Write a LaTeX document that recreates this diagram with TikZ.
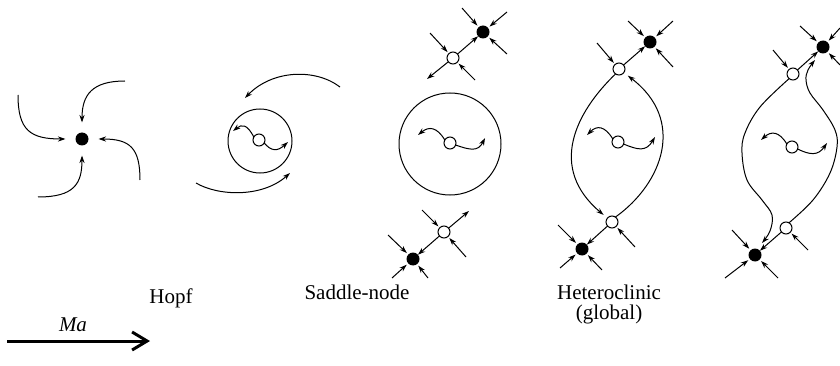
\documentclass[tikz,border=0pt]{standalone}
\usepackage{fontspec}
\setmainfont{Liberation Serif}
\usetikzlibrary{arrows.meta,calc}
\begin{document}
\begin{tikzpicture}[x=1pt,y=-1pt,
  every node/.style={inner sep=0pt,outer sep=0pt},
  fdot/.style={circle,fill=black,minimum size=13pt},
  odot/.style={circle,draw,line width=1pt,fill=white,minimum size=12pt},
  arr/.style={line width=1pt,-{Stealth[length=7.5pt,width=5pt]}},
  orbit/.style={line width=1pt},
  lbl/.style={font=\fontsize{21}{24}\selectfont,anchor=base}
]
\useasboundingbox (0,0) rectangle (840,366);

% ---------- panel 1: stable focus
\node[fdot] (D1) at (82,139) {};
\coordinate (p1a) at (125,81);
\coordinate (p1b) at (18,95);
\coordinate (p1c) at (140,180);
\coordinate (p1d) at (38,197);
\draw[arr,shorten >=10pt] (p1a) .. controls (92,81) and (82,95) .. (D1);
\draw[arr,shorten >=10pt] (p1b) .. controls (18,130) and (30,139) .. (D1);
\draw[arr,shorten >=10pt] (p1c) .. controls (140,148) and (130,139) .. (D1);
\draw[arr,shorten >=10pt] (p1d) .. controls (74,197) and (82,184) .. (D1);

% ---------- panel 2: Hopf
\coordinate (C2) at (260,141);
\draw[orbit] (C2) circle[radius=32];
\node[odot] (O0) at (259,140) {};
\draw[arr] (O0.150) .. controls (247,124) and (242,124) .. (233,131);
\draw[arr] (O0.-30) .. controls (271,151) and (277,152) .. (288,142);
\coordinate (p2a) at (340,87);
\coordinate (p2b) at (245,98);
\coordinate (p2c) at (196,183);
\coordinate (p2d) at (290,173);
\draw[arr] (p2a) .. controls (315,68) and (272,70) .. (p2b);
\draw[arr] (p2c) .. controls (218,196) and (262,198) .. (p2d);

% ---------- panel 3: saddle-node
\coordinate (C3) at (450,144);
\draw[orbit] (C3) circle[radius=51];
\node[odot] (O3) at (450,143) {};
\draw[arr] (O3.150) .. controls (437,127) and (429,126) .. (418,135);
\draw[arr] (O3.-20) .. controls (470,150) and (478,152) .. (485,138);
\node[fdot] (F1) at (483,32) {};
\node[odot] (O1) at (453,58) {};
\draw[arr] (O1) -- (F1);
\draw[arr] (O1) -- ($(O1)+(-26,21)$);
\draw[arr,shorten >=2pt] ($(O1)+(-23,-25)$) -- (O1);
\draw[arr,shorten >=2pt] ($(O1)+(22,22)$) -- (O1);
\draw[arr,shorten >=2pt] ($(F1)+(-21,-24)$) -- (F1);
\draw[arr,shorten >=2pt] ($(F1)+(24,-20)$) -- (F1);
\draw[arr,shorten >=2pt] ($(F1)+(24,22)$) -- (F1);
\node[odot] (O2) at (444,232) {};
\node[fdot] (F2) at (413,259) {};
\draw[arr] (O2) -- (F2);
\draw[arr] (O2) -- ($(O2)+(25,-21)$);
\draw[arr,shorten >=2pt] ($(O2)+(-22,-22)$) -- (O2);
\draw[arr,shorten >=2pt] ($(O2)+(22,25)$) -- (O2);
\draw[arr,shorten >=2pt] ($(F2)+(-25,-24)$) -- (F2);
\draw[arr,shorten >=2pt] ($(F2)+(-21,19)$) -- (F2);
\draw[arr,shorten >=2pt] ($(F2)+(15,19)$) -- (F2);

% ---------- panel 4: heteroclinic
\node[odot] (O5) at (618,142) {};
\draw[arr] (O5.150) .. controls (605,126) and (597,125) .. (587,135);
\draw[arr] (O5.-20) .. controls (638,150) and (646,152) .. (655,137);
\node[fdot] (F3) at (650,42) {};
\node[odot] (O4) at (619,69) {};
\draw[arr] (O4) -- (F3);
\draw[arr,shorten >=2pt] ($(O4)+(-22,-26)$) -- (O4);
\draw[arr,shorten >=2pt] ($(F3)+(-22,-21)$) -- (F3);
\draw[arr,shorten >=2pt] ($(F3)+(23,-21)$) -- (F3);
\draw[arr,shorten >=2pt] ($(F3)+(23,25)$) -- (F3);
\node[odot] (O6) at (612,222) {};
\node[fdot] (F4) at (582,249) {};
\draw[arr] (O6) -- (F4);
\draw[arr,shorten >=2pt] ($(O6)+(23,25)$) -- (O6);
\draw[arr,shorten >=2pt] ($(F4)+(-24,-24)$) -- (F4);
\draw[arr,shorten >=2pt] ($(F4)+(-22,19)$) -- (F4);
\draw[arr,shorten >=2pt] ($(F4)+(20,21)$) -- (F4);
\draw[arr,shorten >=5pt] (O4.235) .. controls (575,113) and (548,168) .. (O6);
\draw[arr,shorten >=5pt] (O6.55) .. controls (663,183) and (686,120) .. (O4);

% ---------- panel 5: wavy
\node[odot] (O8) at (792,147) {};
\draw[arr] (O8.150) .. controls (779,131) and (771,131) .. (761,140);
\draw[arr] (O8.-20) .. controls (810,155) and (818,156) .. (827,143);
\node[fdot] (F5) at (823,47) {};
\node[odot] (O7) at (793,74) {};
\draw[arr] (O7) -- (F5);
\draw[arr,shorten >=2pt] ($(O7)+(-20,-24)$) -- (O7);
\draw[arr,shorten >=2pt] ($(F5)+(-23,-21)$) -- (F5);
\draw[arr,shorten >=2pt] ($(F5)+(17,-19)$) -- (F5);
\draw[arr,shorten >=2pt] ($(F5)+(17,18)$) -- (F5);
\node[odot] (O9) at (786,228) {};
\node[fdot] (F6) at (755,255) {};
\draw[arr] (O9) -- (F6);
\draw[arr,shorten >=2pt] ($(O9)+(22,22)$) -- (O9);
\draw[arr,shorten >=2pt] ($(F6)+(-23,-25)$) -- (F6);
\draw[arr,shorten >=2pt] ($(F6)+(-30,23)$) -- (F6);
\draw[arr,shorten >=2pt] ($(F6)+(23,23)$) -- (F6);
\draw[arr] plot[smooth,tension=0.6] coordinates {(O7.230) (760,107) (745,133) (742,153) (747,180) (762,200) (772,215) (770,231) (762,243)};
\draw[arr] plot[smooth,tension=0.6] coordinates {(O9.60) (813,200) (830,173) (837,147) (835,130) (823,110) (810,93) (806,80) (808,70) (815,60)};

% ---------- labels
\node[lbl] (hopf) at (171,303) {Hopf};
\node[lbl] (sn) at (357,299) {Saddle-node};
\node[lbl] (het) at (609,299) {Heteroclinic};
\node[lbl] (glob) at (609,319) {(global)};
\node[lbl] (ma) at (73,331) {\textit{Ma}};
\coordinate (ma0) at (7,341);
\coordinate (ma1) at (150,341);
\draw[line width=3pt,-{Straight Barb[length=15pt,width=18pt]}] (ma0) -- (ma1);
\end{tikzpicture}
\end{document}
